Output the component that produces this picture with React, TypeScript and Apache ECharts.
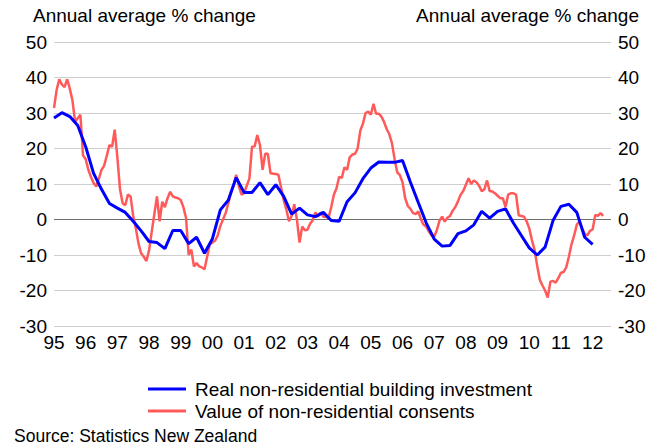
import React, { useEffect, useRef } from "react";
import * as echarts from "echarts";

// Monthly series starting Jan 1995: value of non-residential consents (annual average % change)
const CONSENTS_START = 1995;
const consents = [
  31.4, 36.5, 39.5, 38.0, 37.3, 39.5, 36.8, 33.5, 27.5, 28.5, 29.5, 18.0, // 1995
  17.0, 14.0, 12.0, 10.3, 9.3, 11.5, 14.0, 15.2, 18.0, 21.0, 20.5, 25.3, // 1996
  17.5, 8.5, 4.6, 4.0, 7.0, 6.5, 1.0, -2.5, -6.8, -9.5, -10.5, -11.7, // 1997
  -8.7, -3.5, 1.5, 6.5, -0.5, 5.0, 3.5, 6.0, 7.8, 6.5, 6.2, 6.0, // 1998
  5.5, 3.5, 0.5, -10.0, -8.5, -13.2, -12.3, -13.2, -13.5, -14.0, -10.5, -7.0, // 1999
  -6.5, -6.0, -4.5, -1.8, 0.0, 1.8, 4.5, 7.5, 9.5, 12.6, 9.5, 7.0, // 2000
  7.4, 9.5, 11.5, 20.5, 20.6, 23.8, 21.0, 14.0, 18.5, 18.5, 13.0, 12.9, // 2001
  12.8, 12.6, 9.0, 5.5, 2.8, -0.5, 1.0, 4.3, 0.0, -6.5, -2.0, -3.0, // 2002
  -2.9, -1.2, -0.2, 2.0, 0.8, 2.0, 0.8, 0.7, 0.5, 3.5, 7.0, 8.8, // 2003
  12.0, 11.7, 14.7, 14.0, 17.5, 18.3, 18.5, 20.0, 25.0, 27.0, 30.0, 30.4, // 2004
  29.5, 32.6, 29.8, 29.8, 29.0, 27.5, 25.5, 24.0, 21.5, 17.0, 13.3, 12.5, // 2005
  10.5, 6.0, 3.8, 3.0, 1.8, 1.5, 2.3, 0.0, -1.5, -2.0, -3.4, -4.5, // 2006
  -4.8, -3.0, -0.3, 0.8, -0.6, 0.5, 1.0, 2.5, 3.5, 5.1, 7.0, 8.0, // 2007
  9.8, 11.6, 10.0, 11.0, 10.5, 9.5, 8.0, 8.5, 11.0, 8.0, 7.9, 7.4, // 2008
  6.7, 6.0, 6.0, 3.5, 7.0, 7.4, 7.4, 7.0, 1.2, 1.0, 0.8, -0.5, // 2009
  -2.5, -5.8, -8.5, -13.0, -17.0, -18.6, -20.0, -22.0, -17.5, -17.3, -17.8, -16.5, // 2010
  -15.0, -14.8, -13.5, -10.5, -7.0, -4.5, -1.5, -0.5, -2.5, -4.0, -4.5, -3.2, // 2011
  -2.8, 1.3, 1.0, 1.8, 1.0, // 2012
];

// Quarterly series starting 1995 Q1: real non-residential building investment
const INVESTMENT_START = 1995;
const investment = [
  28.6, 30.1, 29.0, 26.5, // 1995
  20.5, 13.0, 8.5, 4.5, // 1996
  3.2, 2.0, -0.5, -3.2, // 1997
  -6.2, -6.5, -8.2, -3.1, // 1998
  -3.1, -6.8, -5.0, -9.5, // 1999
  -5.4, 2.7, 5.4, 11.8, // 2000
  7.6, 7.6, 10.4, 7.0, // 2001
  9.8, 6.5, 1.5, 3.2, // 2002
  1.3, 0.8, 2.0, -0.3, // 2003
  -0.5, 5.0, 7.5, 11.5, // 2004
  14.5, 16.2, 16.1, 16.1, // 2005
  16.6, 10.5, 4.7, -1.0, // 2006
  -5.5, -7.5, -7.3, -4.0, // 2007
  -3.2, -1.5, 2.3, 0.4, // 2008
  2.3, 3.0, -1.0, -4.5, // 2009
  -8.0, -10.0, -7.8, -0.3, // 2010
  3.7, 4.3, 2.0, -5.0, // 2011
  -7.0, // 2012
];

const yTicks = { min: -30, max: 50, step: 10 };
const xRange = { min: 1995, max: 2012.58 };

const SERIES_INVEST = "Real non-residential building investment";
const SERIES_CONSENTS = "Value of non-residential consents";
const AXIS_TITLE = "Annual average % change";
const SOURCE = "Source: Statistics New Zealand";

const FONT = '"Liberation Sans", Arial, sans-serif';

export default function App() {
  const ref = useRef<HTMLDivElement>(null);

  useEffect(() => {
    document.body.style.margin = "0";
    if (!ref.current) return;
    const chart = echarts.init(ref.current, undefined, { renderer: "svg" });

    const consentsData = consents.map((v, i) => [CONSENTS_START + i / 12, v]);
    const investData = investment.map((v, i) => [INVESTMENT_START + i / 4, v]);

    const nSplits = (yTicks.max - yTicks.min) / yTicks.step + 1;
    const splitColors: string[] = [];
    for (let i = 0; i < nSplits; i++) {
      const val = yTicks.min + i * yTicks.step;
      splitColors.push(val === 0 ? "#6e6e6e" : "#cfcfcf");
    }

    const yAxisBase = {
      type: "value",
      min: yTicks.min,
      max: yTicks.max,
      interval: yTicks.step,
      axisLine: { show: false },
      axisTick: { show: false },
      axisLabel: { fontSize: 19, color: "#000", fontFamily: FONT, margin: 7 },
    };

    chart.setOption({
      animation: false,
      textStyle: { fontFamily: FONT },
      grid: { left: 54, right: 51, top: 42, bottom: 122, containLabel: false },
      xAxis: {
        type: "value",
        min: xRange.min,
        max: xRange.max,
        interval: 1,
        axisLine: { show: false, onZero: false },
        axisTick: { show: false },
        splitLine: { show: false },
        axisLabel: {
          fontSize: 19,
          color: "#000",
          fontFamily: FONT,
          margin: 7,
          formatter: (v: number) =>
            Math.abs(v - Math.round(v)) < 1e-6 ? String(Math.round(v) % 100).padStart(2, "0") : "",
        },
      },
      yAxis: [
        {
          ...yAxisBase,
          position: "left",
          splitLine: { show: true, lineStyle: { color: splitColors, width: 1 } },
        },
        {
          ...yAxisBase,
          position: "right",
          splitLine: { show: false },
        },
      ],
      legend: {
        data: [SERIES_INVEST, SERIES_CONSENTS],
        orient: "vertical",
        left: 143,
        top: 374,
        icon: "rect",
        itemWidth: 38,
        itemHeight: 3,
        itemGap: 2,
        textStyle: { fontSize: 19, color: "#000", fontFamily: FONT, lineHeight: 20, padding: [0, 0, 0, 4] },
      },
      graphic: [
        {
          type: "text",
          left: 33,
          top: 6,
          style: { text: AXIS_TITLE, font: `19px ${FONT}`, fill: "#000" },
        },
        {
          type: "text",
          right: 23,
          top: 6,
          style: { text: AXIS_TITLE, font: `19px ${FONT}`, fill: "#000" },
        },
        {
          type: "text",
          left: 14,
          top: 427,
          style: { text: SOURCE, font: `17.5px ${FONT}`, fill: "#000" },
        },
      ],
      series: [
        {
          name: SERIES_CONSENTS,
          type: "line",
          data: consentsData,
          symbol: "none",
          z: 2,
          lineStyle: { color: "#ff5a5a", width: 2.5 },
          itemStyle: { color: "#ff5a5a" },
        },
        {
          name: SERIES_INVEST,
          type: "line",
          data: investData,
          symbol: "none",
          z: 3,
          lineStyle: { color: "#0000ff", width: 3 },
          itemStyle: { color: "#0000ff" },
        },
      ],
    });

    return () => chart.dispose();
  }, []);

  return (
    <div
      ref={ref}
      style={{ position: "absolute", left: 0, top: 0, width: 662, height: 448 }}
    />
  );
}
